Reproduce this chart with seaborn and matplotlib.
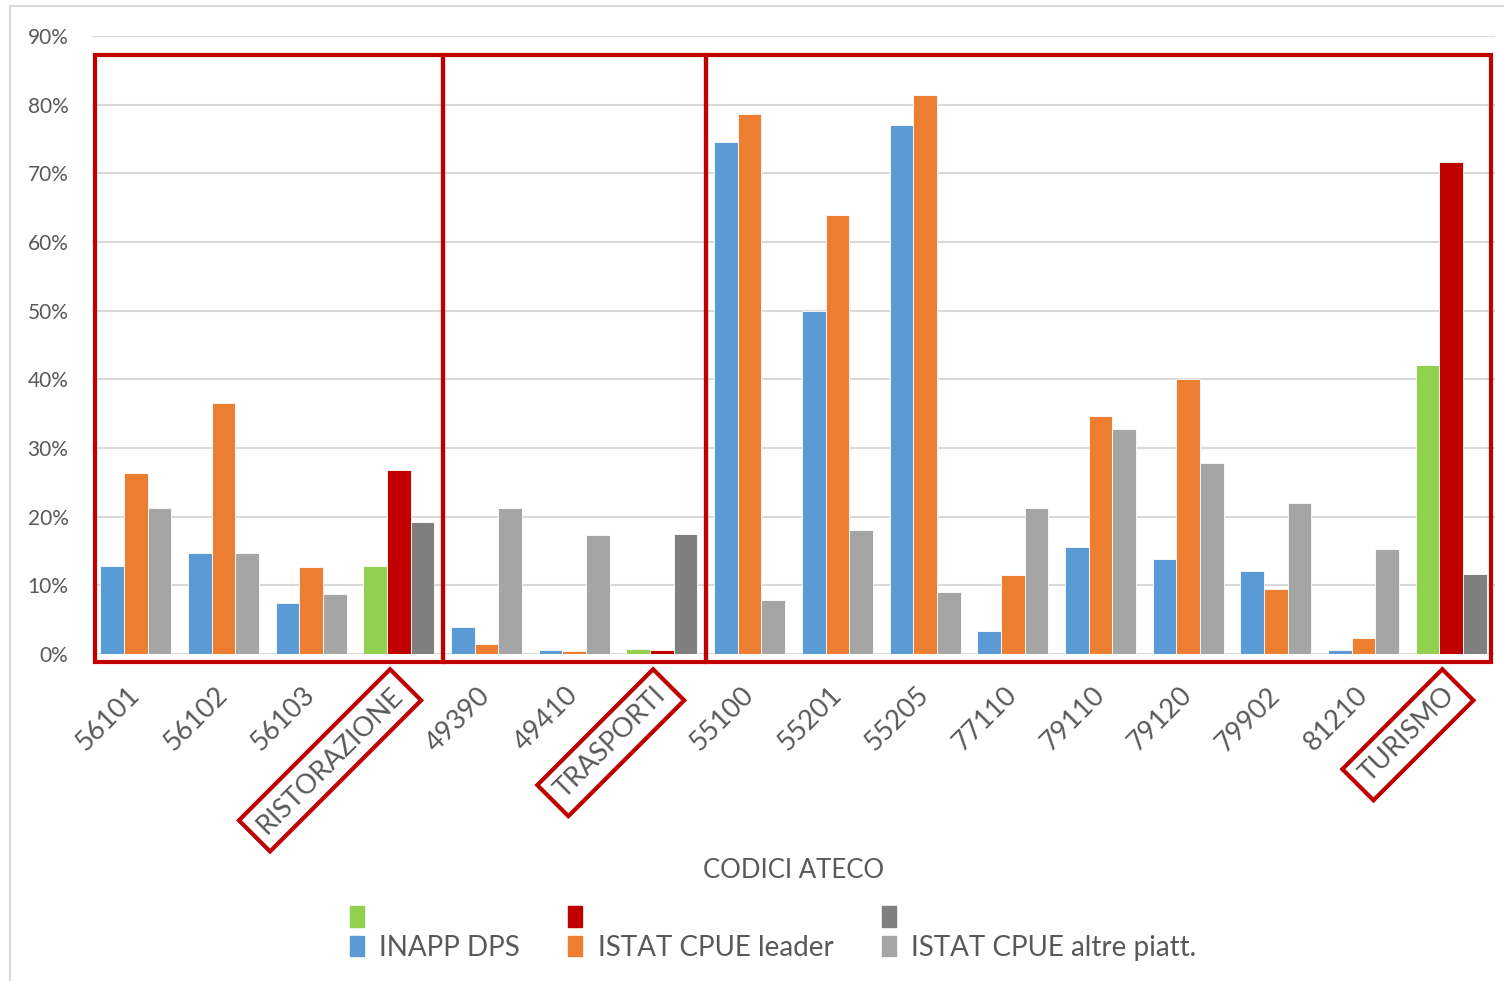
import matplotlib
matplotlib.use('Agg')
import matplotlib.pyplot as plt
from matplotlib.patches import Rectangle, Patch
from matplotlib.lines import Line2D
import seaborn as sns
import pandas as pd

# --- Dati ---
codici = ['56101', '56102', '56103', 'RISTORAZIONE', '49390', '49410', 'TRASPORTI',
          '55100', '55201', '55205', '77110', '79110', '79120', '79902', '81210', 'TURISMO']
aggregati = ['RISTORAZIONE', 'TRASPORTI', 'TURISMO']
serie = ['INAPP DPS', 'ISTAT CPUE leader', 'ISTAT CPUE altre piatt.']

inapp_dps = [12.8, 14.7, 7.4, 12.8, 4.0, 0.6, 0.8, 74.5, 50.0, 77.0, 3.3, 15.6, 13.8, 12.1, 0.6, 42.1]
istat_leader = [26.3, 36.5, 12.6, 26.8, 1.4, 0.4, 0.6, 78.6, 63.9, 81.4, 11.5, 34.6, 40.1, 9.5, 2.3, 71.7]
istat_altre = [21.2, 14.7, 8.7, 19.2, 21.2, 17.3, 17.5, 7.9, 18.0, 9.1, 21.2, 32.8, 27.8, 22.0, 15.3, 11.6]

# gruppi evidenziati con il riquadro rosso (primo e ultimo codice)
gruppi = [('56101', 'RISTORAZIONE'), ('49390', 'TRASPORTI'), ('55100', 'TURISMO')]

colori = ['#5B9BD5', '#ED7D31', '#A5A5A5']
colori_aggr = ['#92D050', '#C00000', '#7F7F7F']
rosso = '#C00000'
testo = '#595959'

df = pd.DataFrame({
    'codice': codici * 3,
    'serie': [s for s in serie for _ in codici],
    'valore': inapp_dps + istat_leader + istat_altre,
})

# --- Grafico ---
sns.set_style('white')
plt.rcParams['font.family'] = ['Lato', 'DejaVu Sans']

fig = plt.figure(figsize=(15.04, 9.81), dpi=100)
ax = fig.add_axes([92 / 1504, 1 - 654 / 981, 1403 / 1504, 618 / 981])

sns.barplot(data=df, x='codice', y='valore', hue='serie', palette=colori,
            width=0.81, saturation=1, edgecolor='white', linewidth=0.6,
            legend=False, ax=ax)

# colori diversi per le barre dei totali di settore
for k, cont in enumerate(ax.containers):
    for i, bar in enumerate(cont):
        if codici[i] in aggregati:
            bar.set_facecolor(colori_aggr[k])

ax.set_xlim(-0.5, len(codici) - 0.5)
ax.set_ylim(0, 90)
ax.set_yticks(range(0, 91, 10))
ax.set_yticklabels([f'{v}%' for v in range(0, 91, 10)])
ax.yaxis.grid(True, color='#D9D9D9', linewidth=1.5)
ax.set_axisbelow(True)
for s in ax.spines.values():
    s.set_visible(False)

ax.tick_params(axis='y', length=0, pad=17, labelsize=15, labelcolor=testo)
ax.tick_params(axis='x', length=0, pad=27, labelsize=19.5, labelcolor=testo)
for lab in ax.get_xticklabels():
    lab.set_rotation(45)
    lab.set_ha('right')
    lab.set_va('center')
    lab.set_rotation_mode('anchor')
    if lab.get_text() in aggregati:
        lab.set_bbox(dict(boxstyle='square,pad=0.35', fc='none', ec=rosso, lw=3))

ax.set_ylabel('')
ax.set_xlabel('CODICI ATECO', fontsize=18.5, color=testo, va='center')
ax.xaxis.set_label_coords(0.5, -0.35)

# riquadri rossi attorno ai gruppi
for a, b in gruppi:
    x0 = codici.index(a) - 0.5
    x1 = codici.index(b) + 0.5
    if a == codici[0]:
        x0 = -0.466
    if b == codici[-1]:
        x1 = len(codici) - 0.55
    ax.add_patch(Rectangle((x0, -1.17), x1 - x0, 88.4, fill=False, ec=rosso,
                           lw=3, clip_on=False, zorder=5))

# legenda
handles = [Patch(color=colori_aggr[0]), Patch(color=colori[0]),
           Patch(color=colori_aggr[1]), Patch(color=colori[1]),
           Patch(color=colori_aggr[2]), Patch(color=colori[2])]
labels = ['', serie[0], '', serie[1], '', serie[2]]
fig.legend(handles, labels, ncol=3, loc='center', bbox_to_anchor=(773 / 1504, 1 - 933 / 981),
           frameon=False, fontsize=20, labelcolor=testo, handlelength=0.5, handleheight=0.75,
           handletextpad=0.55, columnspacing=1.75, labelspacing=0.12)

# bordo dell'area del grafico
fig.add_artist(Line2D([10 / 1504, 10 / 1504], [0, 1 - 6 / 981], color='#D9D9D9', lw=1.5))
fig.add_artist(Line2D([10 / 1504, 1], [1 - 6 / 981, 1 - 6 / 981], color='#D9D9D9', lw=1.5))

fig.savefig('out.png', dpi=100)
